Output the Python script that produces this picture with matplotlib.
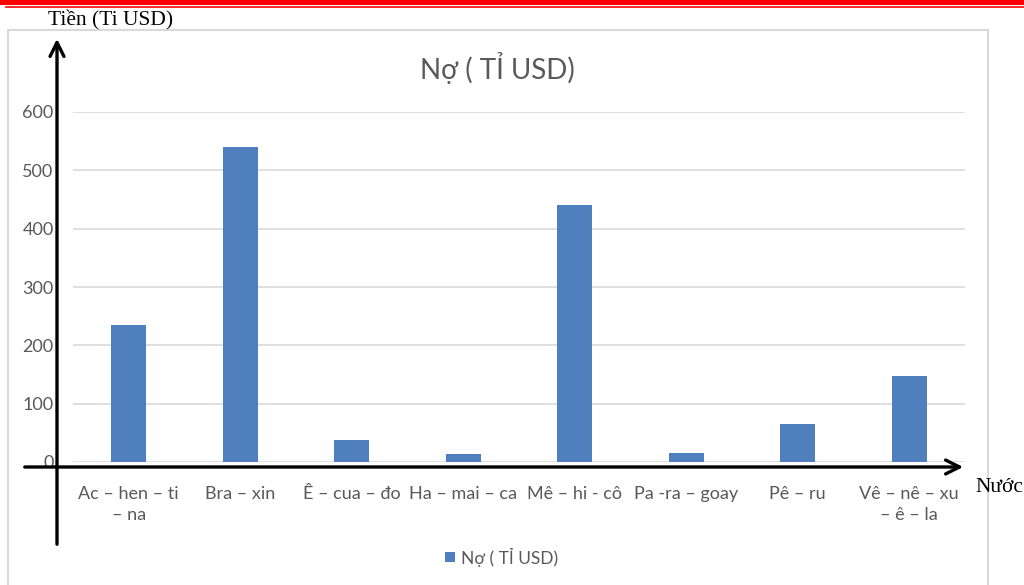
import matplotlib.pyplot as plt
from matplotlib.patches import FancyArrowPatch, Rectangle
from matplotlib.lines import Line2D
import numpy as np

countries = ["Ac – hen – ti\n– na", "Bra – xin", "Ê – cua – đo", "Ha – mai – ca",
             "Mê – hi - cô", "Pa -ra – goay", "Pê – ru", "Vê – nê – xu\n– ê – la"]
debt = [235, 540, 38, 13, 440, 15, 66, 147]
y_ticks = [0, 100, 200, 300, 400, 500, 600]
series_name = "Nợ ( TỈ USD)"

SANS = ["Lato", "DejaVu Sans"]
SERIF = ["Liberation Serif", "DejaVu Serif"]
GREY = "#595959"
BLUE = "#4f80bd"

W, H = 1024, 585
fig = plt.figure(figsize=(W / 100, H / 100), dpi=100)

def px(x, y):
    # pixel position (from top-left) -> figure fraction
    return x / W, 1 - y / H

# chart frame
fig.add_artist(Rectangle(px(8, 600), 980 / W, 570 / H, transform=fig.transFigure,
                         fill=False, edgecolor="#d9d9d9", linewidth=1.5))

# red header rules
fig.add_artist(Rectangle(px(0, 5), 1, 5 / H, transform=fig.transFigure,
                         facecolor="#ff0000", edgecolor="none"))
fig.add_artist(Line2D([6 / W, 1], [1 - 7 / H] * 2, transform=fig.transFigure,
                      color="#ff0000", linewidth=1.2))

ax = fig.add_axes([73 / W, 123 / H, 892 / W, 350 / H])
x = np.arange(len(countries))
ax.bar(x, debt, width=0.31, color=BLUE, zorder=3)
ax.set_xlim(-0.5, len(countries) - 0.5)
ax.set_ylim(0, 600)
ax.set_yticks(y_ticks)
ax.set_yticklabels([str(t) for t in y_ticks], family=SANS, fontsize=13, color=GREY)
ax.set_xticks(x)
ax.set_xticklabels(countries, family=SANS, fontsize=13, color=GREY, linespacing=1.4)
ax.tick_params(length=0, axis="y", pad=14)
ax.tick_params(length=0, axis="x", pad=17)
ax.grid(axis="y", color="#d9d9d9", linewidth=1.2, zorder=0)
for s in ax.spines.values():
    s.set_visible(False)

fig.text(497 / W, 1 - 68 / H, series_name, family=SANS, fontsize=20, color=GREY,
         ha="center", va="center")

# hand-drawn axes arrows
fig.add_artist(FancyArrowPatch(px(57, 547), px(57, 36), transform=fig.transFigure,
                               arrowstyle="->,head_length=10,head_width=5",
                               color="black", linewidth=2.4))
fig.add_artist(FancyArrowPatch(px(22, 467), px(966, 467), transform=fig.transFigure,
                               arrowstyle="->,head_length=10,head_width=5",
                               color="black", linewidth=2.4))
fig.text(48 / W, 1 - 20 / H, "Tiền (Ti USD)", family=SERIF, fontsize=15.5,
         color="black", ha="left", va="center")
fig.text(975 / W, 1 - 488 / H, "Nước", family=SERIF, fontsize=15.5,
         color="black", ha="left", va="center")

# legend
fig.add_artist(Rectangle(px(445, 562), 10 / W, 10 / H, transform=fig.transFigure,
                         facecolor=BLUE, edgecolor="none"))
fig.text(461 / W, 1 - 557 / H, series_name, family=SANS, fontsize=12.5, color=GREY,
         ha="left", va="center")

fig.savefig("out.png", dpi=100)
